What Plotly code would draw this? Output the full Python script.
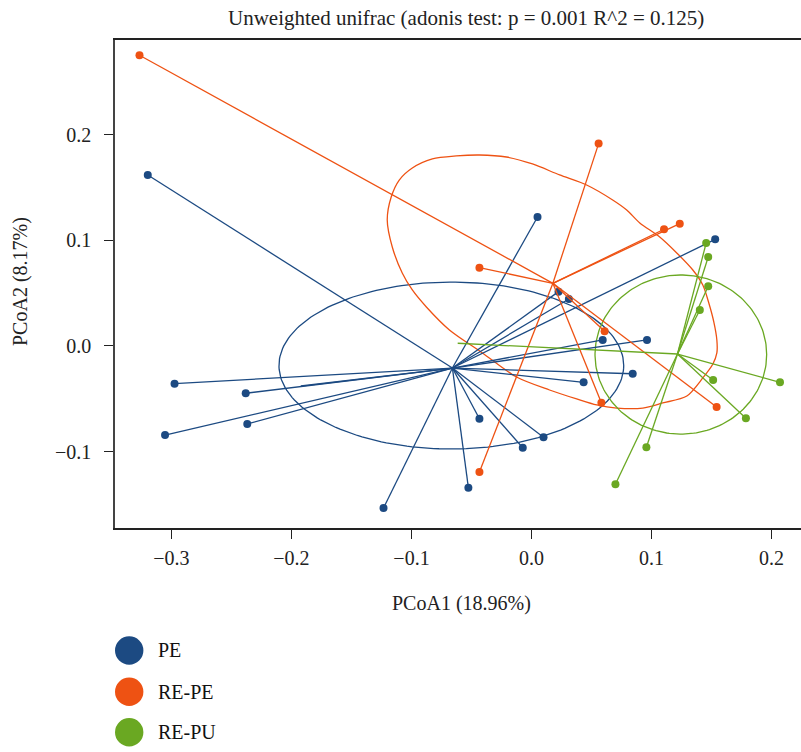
import numpy as np
import plotly.graph_objects as go

# ---------------- data ----------------
groups = ["PE", "RE-PE", "RE-PU"]
colors = {"PE": "#1c4a82", "RE-PE": "#ee5213", "RE-PU": "#6aa822"}

pe_x = [-0.3197, 0.0050, 0.1530, 0.0225, 0.0311, 0.0962, 0.0593, 0.0843, 0.0434,
        -0.2974, -0.2381, -0.2368, -0.3053, -0.0434, 0.0100, -0.0073, -0.0526, -0.1233, -0.1922]
pe_y = [0.1621, 0.1223, 0.1011, 0.0515, 0.0445, 0.0057, 0.0057, -0.0263, -0.0344,
        -0.0357, -0.0448, -0.0739, -0.0844, -0.0689, -0.0865, -0.0964, -0.1343, -0.1536, -0.0379]
pe_visible = [1] * 18 + [0]

repe_x = [-0.3266, 0.0559, 0.1104, 0.1235, -0.0434, 0.0609, 0.0582, 0.1542, -0.0434]
repe_y = [0.2755, 0.1918, 0.1106, 0.1159, 0.0742, 0.0139, -0.0537, -0.0578, -0.1194]
repe_visible = [1] * 9

repu_x = [0.1455, 0.1472, 0.1472, 0.1402, 0.1513, 0.2070, 0.1786, 0.0957, 0.0699, -0.0615]
repu_y = [0.0976, 0.0844, 0.0566, 0.0341, -0.0322, -0.0344, -0.0685, -0.0960, -0.1311, 0.0026]
repu_visible = [1] * 9 + [0]

centroid_x = {"PE": -0.0659, "RE-PE": 0.0178, "RE-PU": 0.1216}
centroid_y = {"PE": -0.0209, "RE-PE": 0.0594, "RE-PU": -0.0076}

# ellipses: center x, center y, semi-axis x, semi-axis y
ell_pe = (-0.0668, -0.0185, 0.1436, 0.0791)
ell_repu = (0.1244, -0.0081, 0.0715, 0.0754)

# RE-PE outline (irregular)
repe_cont_x = [-0.0684, -0.0876, -0.0993, -0.1077, -0.1160, -0.1202, -0.1169, -0.1102, -0.0993,
               -0.0826, -0.0626, -0.0434, -0.0209, 0.0008, 0.0234, 0.0459, 0.0676, 0.0793,
               0.0902, 0.1068, 0.1210, 0.1344, 0.1427, 0.1477, 0.1519, 0.1544, 0.1544, 0.1511,
               0.1427, 0.1294, 0.1093, 0.0927, 0.0710, 0.0543, 0.0376, 0.0150, -0.0125, -0.0409,
               -0.0684]
repe_cont_y = [0.0152, 0.0370, 0.0531, 0.0692, 0.0938, 0.1194, 0.1412, 0.1573, 0.1687,
               0.1773, 0.1801, 0.1810, 0.1791, 0.1725, 0.1621, 0.1526, 0.1384, 0.1289,
               0.1166, 0.1033, 0.0882, 0.0720, 0.0578, 0.0408, 0.0227, 0.0057, -0.0066, -0.0171,
               -0.0303, -0.0474, -0.0540, -0.0588, -0.0588, -0.0559, -0.0502, -0.0417, -0.0294, -0.0066,
               0.0152]

x_ticks = [-0.3, -0.2, -0.1, 0.0, 0.1, 0.2]
y_ticks = [-0.1, 0.0, 0.1, 0.2]
x_range = [-0.347, 0.2245]
y_range = [-0.1725, 0.290]

title_text = "Unweighted unifrac (adonis test: p = 0.001 R^2 = 0.125)"
x_title = "PCoA1 (18.96%)"
y_title = "PCoA2 (8.17%)"

# ---------------- figure ----------------
FONT = "'Liberation Serif', 'Times New Roman', 'DejaVu Serif', serif"
W, H = 801, 752
ML, MR, MT, MB = 115, 0, 40, 224

pts = {"PE": (pe_x, pe_y, pe_visible),
       "RE-PE": (repe_x, repe_y, repe_visible),
       "RE-PU": (repu_x, repu_y, repu_visible)}

fig = go.Figure()

def ellipse(cx, cy, a, b, n=200):
    t = np.linspace(0, 2 * np.pi, n)
    return cx + a * np.cos(t), cy + b * np.sin(t)

# outlines
ex, ey = ellipse(*ell_pe)
fig.add_trace(go.Scatter(x=ex, y=ey, mode="lines", line=dict(color=colors["PE"], width=1.3),
                         hoverinfo="skip", showlegend=False))
fig.add_trace(go.Scatter(x=repe_cont_x, y=repe_cont_y, mode="lines",
                         line=dict(color=colors["RE-PE"], width=1.3, shape="spline", smoothing=0.8),
                         hoverinfo="skip", showlegend=False))
ex, ey = ellipse(*ell_repu)
fig.add_trace(go.Scatter(x=ex, y=ey, mode="lines", line=dict(color=colors["RE-PU"], width=1.3),
                         hoverinfo="skip", showlegend=False))

for g in groups:
    xs, ys, vis = pts[g]
    cx, cy = centroid_x[g], centroid_y[g]
    sx, sy = [], []
    for x, y in zip(xs, ys):
        sx += [cx, x, None]
        sy += [cy, y, None]
    fig.add_trace(go.Scatter(x=sx, y=sy, mode="lines", line=dict(color=colors[g], width=1.3),
                             hoverinfo="skip", showlegend=False))
    fig.add_trace(go.Scatter(x=xs, y=ys, mode="markers", name=g,
                             marker=dict(color=colors[g], size=[8 if v else 0 for v in vis],
                                         opacity=1, line=dict(width=0)),
                             showlegend=False))

axis_common = dict(showgrid=False, zeroline=False, ticks="outside", ticklen=9,
                   tickwidth=1.2, tickcolor="#222", tickformat=".1f",
                   tickfont=dict(family=FONT, size=20, color="#222"))
fig.update_xaxes(range=x_range, tickvals=x_ticks, showline=True, linecolor="#222",
                 linewidth=1.5, mirror=True, ticklabelstandoff=2, **axis_common)
fig.update_yaxes(range=y_range, tickvals=y_ticks, showline=True, linecolor="#444",
                 linewidth=1.6, ticklabelstandoff=9, **axis_common)

pw, ph = W - ML - MR, H - MT - MB
def px2paper(px, py):
    return (px - ML) / pw, (H - MB - py) / ph

annotations = []
tx, ty = px2paper(466, 18)
annotations.append(dict(text=title_text, x=tx, y=ty, xref="paper", yref="paper", showarrow=False,
                        xanchor="center", yanchor="middle", font=dict(family=FONT, size=21, color="#222")))
tx, ty = px2paper(461, 603)
annotations.append(dict(text=x_title, x=tx, y=ty, xref="paper", yref="paper", showarrow=False,
                        xanchor="center", yanchor="middle", font=dict(family=FONT, size=20, color="#222")))
tx, ty = px2paper(20, 281)
annotations.append(dict(text=y_title, x=tx, y=ty, xref="paper", yref="paper", showarrow=False,
                        textangle=-90, xanchor="center", yanchor="middle",
                        font=dict(family=FONT, size=20, color="#222")))

shapes = []
legend_y = [650.5, 691.7, 732.3]
for g, ly in zip(groups, legend_y):
    x0, y0 = px2paper(115, ly + 14.2)
    x1, y1 = px2paper(143.4, ly - 14.2)
    shapes.append(dict(type="circle", xref="paper", yref="paper", x0=x0, y0=y0, x1=x1, y1=y1,
                       fillcolor=colors[g], line=dict(color=colors[g], width=0)))
    tx, ty = px2paper(156, ly)
    annotations.append(dict(text=g, x=tx, y=ty, xref="paper", yref="paper", showarrow=False,
                            xanchor="left", yanchor="middle",
                            font=dict(family=FONT, size=20, color="#111")))

fig.update_layout(width=W, height=H, margin=dict(l=ML, r=MR, t=MT, b=MB),
                  plot_bgcolor="white", paper_bgcolor="white",
                  annotations=annotations, shapes=shapes, showlegend=False)

fig.write_html("out.html", config={"displayModeBar": False},
               post_script="document.body.style.margin='0';")
